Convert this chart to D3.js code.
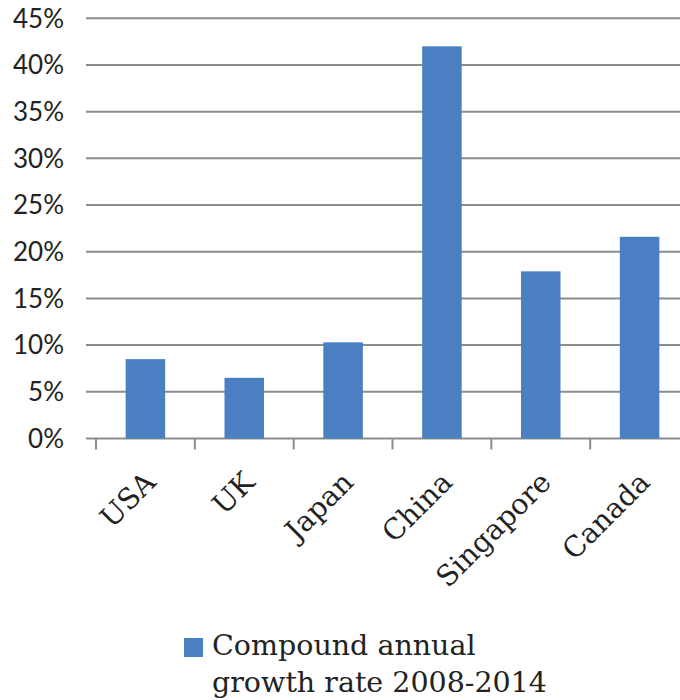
<!DOCTYPE html>
<html>
<head>
<meta charset="utf-8">
<script src="https://cdn.jsdelivr.net/npm/d3@7"></script>
<style>
  body { margin: 0; background: #fff; }
  svg { display: block; }
  .serif { font-family: "DejaVu Serif", "Liberation Serif", serif; }
</style>
</head>
<body>
<svg id="chart" width="680" height="700"></svg>
<script>
// data
var countries = ["USA", "UK", "Japan", "China", "Singapore", "Canada"];
var growth = [8.5, 6.5, 10.3, 42.0, 17.9, 21.6];
var yTicks = [0, 5, 10, 15, 20, 25, 30, 35, 40, 45];
var legendLines = ["Compound annual", "growth rate 2008-2014"];

var svg = d3.select("#chart");
var blue = "#4a80c1";
var grid = "#8c8c8c";

var x = d3.scaleBand()
    .domain(countries)
    .range([96, 689])
    .paddingInner(0.6)
    .paddingOuter(0.3);

var y = d3.scaleLinear()
    .domain([0, 45])
    .range([438.5, 18.3]);

// gridlines
svg.append("g")
   .selectAll("line")
   .data(yTicks)
   .enter()
   .append("line")
   .attr("x1", 86)
   .attr("x2", 680)
   .attr("y1", function(d) { return y(d); })
   .attr("y2", function(d) { return y(d); })
   .attr("stroke", grid)
   .attr("stroke-width", 2);

// y labels
svg.append("g")
   .selectAll("text")
   .data(yTicks)
   .enter()
   .append("text")
   .attr("x", 64)
   .attr("y", function(d) { return y(d); })
   .attr("dy", "0.36em")
   .attr("text-anchor", "end")
   .attr("font-family", "Lato, 'Noto Sans', sans-serif")
   .attr("font-size", 26)
   .attr("fill", "#222")
   .text(function(d) { return d + "%"; });

// bars
svg.append("g")
   .selectAll("rect")
   .data(growth)
   .enter()
   .append("rect")
   .attr("x", function(d, i) { return x(countries[i]); })
   .attr("width", x.bandwidth())
   .attr("y", function(d) { return y(d); })
   .attr("height", function(d) { return y(0) - y(d); })
   .attr("fill", blue);

// category ticks on the boundaries
var step = x.step();
var bounds = countries.map(function(c) { return x(c) - (step - x.bandwidth()) / 2; });
svg.append("g")
   .selectAll("line")
   .data(bounds)
   .enter()
   .append("line")
   .attr("x1", function(d) { return d; })
   .attr("x2", function(d) { return d; })
   .attr("y1", y(0))
   .attr("y2", y(0) + 11)
   .attr("stroke", grid)
   .attr("stroke-width", 2);

// x labels
svg.append("g")
   .selectAll("text")
   .data(countries)
   .enter()
   .append("text")
   .attr("class", "serif")
   .attr("text-anchor", "end")
   .attr("font-size", 28.5)
   .attr("fill", "#222")
   .attr("transform", function(d) {
       var cx = x(d) + x.bandwidth() / 2 + 12;
       return "translate(" + cx + ",484) rotate(-45)";
   })
   .text(function(d) { return d; });

// legend
svg.append("rect")
   .attr("x", 184)
   .attr("y", 638)
   .attr("width", 19)
   .attr("height", 19)
   .attr("fill", blue);

svg.append("g")
   .selectAll("text")
   .data(legendLines)
   .enter()
   .append("text")
   .attr("class", "serif")
   .attr("x", 212)
   .attr("y", function(d, i) { return 655 + i * 37; })
   .attr("font-size", 28.5)
   .attr("fill", "#222")
   .text(function(d) { return d; });
</script>
</body>
</html>
